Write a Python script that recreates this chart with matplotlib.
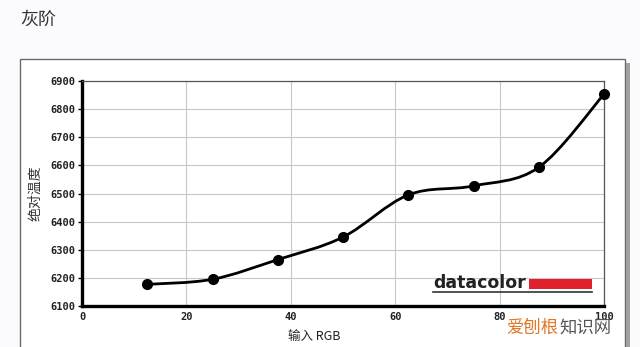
import matplotlib.pyplot as plt
from matplotlib.path import Path
from matplotlib.patches import PathPatch, Rectangle
from matplotlib.lines import Line2D

# data
rgb_input = [12.5, 25, 37.5, 50, 62.5, 75, 87.5, 100]
abs_temp = [6177, 6195, 6265, 6345, 6495, 6527, 6593, 6853]
x_ticks = [0, 20, 40, 60, 80, 100]
y_ticks = [6100, 6200, 6300, 6400, 6500, 6600, 6700, 6800, 6900]

CJK = ["Noto Sans CJK SC", "DejaVu Sans"]


def smooth_path(xs, ys):
    """Catmull-Rom through the points, as bezier segments"""
    pts = list(zip(xs, ys))
    pts = [pts[0]] + pts + [pts[-1]]
    verts = [pts[1]]
    codes = [Path.MOVETO]
    for i in range(1, len(pts) - 2):
        p0, p1, p2, p3 = pts[i - 1], pts[i], pts[i + 1], pts[i + 2]
        c1 = (p1[0] + (p2[0] - p0[0]) / 6, p1[1] + (p2[1] - p0[1]) / 6)
        c2 = (p2[0] - (p3[0] - p1[0]) / 6, p2[1] - (p3[1] - p1[1]) / 6)
        verts += [c1, c2, p2]
        codes += [Path.CURVE4] * 3
    return Path(verts, codes)


fig = plt.figure(figsize=(6.4, 3.47), dpi=100)
fig.patch.set_facecolor("#fbfbfd")

# outer frame + shadow
fig.patches.append(Rectangle((20 / 640, -0.01), 605 / 640, 1 - 59 / 347 + 0.01,
                             transform=fig.transFigure, facecolor="white",
                             edgecolor="#6a6a6a", lw=1.0, zorder=-2))
fig.patches.append(Rectangle((626 / 640, -0.01), 4 / 640, 1 - 63 / 347 + 0.01,
                             transform=fig.transFigure, facecolor="#a0a0a0",
                             edgecolor="none", zorder=-2))

fig.text(20 / 640, 1 - 20 / 347, "灰阶", family=CJK, fontsize=13,
         color="#333333", va="center", ha="left")

ax = fig.add_axes([82 / 640, 1 - 306 / 347, 522 / 640, 225 / 347])
ax.set_xlim(0, 100)
ax.set_ylim(6100, 6900)
ax.set_xticks(x_ticks)
ax.set_yticks(y_ticks)
ax.grid(True, color="#c8c8c8", lw=0.8)
ax.set_axisbelow(True)

for s in ["left", "bottom"]:
    ax.spines[s].set_linewidth(2.4)
    ax.spines[s].set_color("black")
for s in ["top", "right"]:
    ax.spines[s].set_linewidth(0.9)
    ax.spines[s].set_color("#555555")

ax.tick_params(axis="y", length=3, width=1, pad=2, labelsize=7.5)
ax.tick_params(axis="x", length=0, pad=4, labelsize=7.5)
for lab in ax.get_xticklabels() + ax.get_yticklabels():
    lab.set_family("DejaVu Sans Mono")
    lab.set_weight("bold")
    lab.set_color("#222222")

ax.add_patch(PathPatch(smooth_path(rgb_input, abs_temp), facecolor="none",
                       edgecolor="black", lw=2.0, zorder=3))
ax.plot(rgb_input, abs_temp, "o", color="black", ms=7, zorder=4, clip_on=False)

ax.set_xlabel("输入 RGB", family=CJK, fontsize=9, color="#222222")
ax.xaxis.set_label_coords((314 - 82) / 522, -24 / 225)
ax.set_ylabel("绝对温度", family=CJK, fontsize=10, color="#333333")
ax.yaxis.set_label_coords((42 - 82) / 522, 0.5)

# datacolor logo
fig.text(433 / 640, 1 - 283 / 347, "datacolor", fontsize=12.5, weight="bold",
         color="#222222", va="center", ha="left", family="DejaVu Sans")
fig.patches.append(Rectangle((529 / 640, 1 - 289 / 347), 63 / 640, 10 / 347,
                             transform=fig.transFigure, facecolor="#e0202a",
                             edgecolor="none", zorder=5))
fig.lines.append(Line2D([433 / 640, 592 / 640], [1 - 292 / 347, 1 - 292 / 347],
                        transform=fig.transFigure, color="#333333", lw=1.2))

# watermark
fig.text(506 / 640, 1 - 328 / 347, "爱刨根", family=CJK, fontsize=12.5,
         color="#e07828", va="center", ha="left")
fig.text(559 / 640, 1 - 328 / 347, "知识网", family=CJK, fontsize=12.5,
         color="#555555", va="center", ha="left")

fig.savefig("out.png", dpi=100, facecolor=fig.get_facecolor())
